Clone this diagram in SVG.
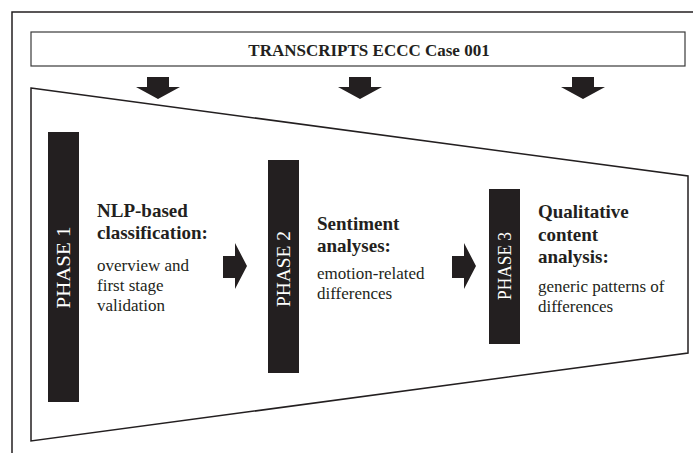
<svg xmlns="http://www.w3.org/2000/svg" width="693" height="453" viewBox="0 0 693 453">
  <defs>
    <style>
      .frame { fill: none; stroke: #231f20; stroke-width: 1.5; }
      .hdr { fill: #fff; stroke: #3a3a3a; stroke-width: 1.2; }
      .bar { fill: #231f20; }
      .arrow { fill: #231f20; }
      .bartxt { font-family: "Liberation Serif", "Times New Roman", serif; font-size: 18px; fill: #fff; text-anchor: middle; dominant-baseline: central; }
      .title { font-family: "Liberation Serif", "Times New Roman", serif; font-size: 19px; font-weight: bold; fill: #231f20; }
      .body { font-family: "Liberation Serif", "Times New Roman", serif; font-size: 17px; fill: #231f20; }
      .head { font-family: "Liberation Serif", "Times New Roman", serif; font-size: 17px; font-weight: bold; fill: #231f20; text-anchor: middle; }
    </style>
    <path id="down" d="M-11,0 H11 V10 H22 L0,22 L-22,10 H-11 Z"/>
    <path id="right" d="M0,13 H12 V0 L24,23 L12,46 V35 H0 Z"/>
  </defs>

  <rect width="693" height="453" fill="#fff"/>

  <!-- outer frame (runs off the right and bottom edges) -->
  <path class="frame" d="M12,453 V12 H693"/>

  <!-- source box -->
  <g id="transcripts">
    <rect class="hdr" x="31" y="32" width="654" height="34"/>
    <text class="head" x="369" y="56">TRANSCRIPTS ECCC Case 001</text>
  </g>

  <!-- funnel -->
  <g id="funnel">
    <polygon class="frame" points="31,88 688,176 688,353 31,441"/>
  </g>

  <!-- phase 1 -->
  <g id="phase1">
    <rect class="bar" x="48" y="132" width="31" height="270"/>
    <text class="bartxt" transform="translate(64,267.5) rotate(-90)" textLength="82" lengthAdjust="spacingAndGlyphs">PHASE 1</text>
    <text class="title" x="97" y="217">NLP-based</text>
    <text class="title" x="97" y="239">classification:</text>
    <text class="body" x="97" y="271">overview and</text>
    <text class="body" x="97" y="291">first stage</text>
    <text class="body" x="97" y="311">validation</text>
  </g>

  <!-- phase 2 -->
  <g id="phase2">
    <rect class="bar" x="268" y="160" width="31" height="213"/>
    <text class="bartxt" transform="translate(284,269) rotate(-90)" textLength="76" lengthAdjust="spacingAndGlyphs">PHASE 2</text>
    <text class="title" x="317" y="230">Sentiment</text>
    <text class="title" x="317" y="252">analyses:</text>
    <text class="body" x="317" y="279">emotion-related</text>
    <text class="body" x="317" y="299">differences</text>
  </g>

  <!-- phase 3 -->
  <g id="phase3">
    <rect class="bar" x="489" y="189" width="31" height="155"/>
    <text class="bartxt" transform="translate(505,266) rotate(-90)" textLength="68" lengthAdjust="spacingAndGlyphs">PHASE 3</text>
    <text class="title" x="538" y="218">Qualitative</text>
    <text class="title" x="538" y="241">content</text>
    <text class="title" x="538" y="263">analysis:</text>
    <text class="body" x="538" y="292">generic patterns of</text>
    <text class="body" x="538" y="312">differences</text>
  </g>

  <!-- connectors -->
  <g id="connectors">
    <use href="#down" class="arrow" x="158" y="77"/>
    <use href="#down" class="arrow" x="360" y="77"/>
    <use href="#down" class="arrow" x="583" y="77"/>
    <use href="#right" class="arrow" x="223" y="243"/>
    <use href="#right" class="arrow" x="452" y="243"/>
  </g>
</svg>
